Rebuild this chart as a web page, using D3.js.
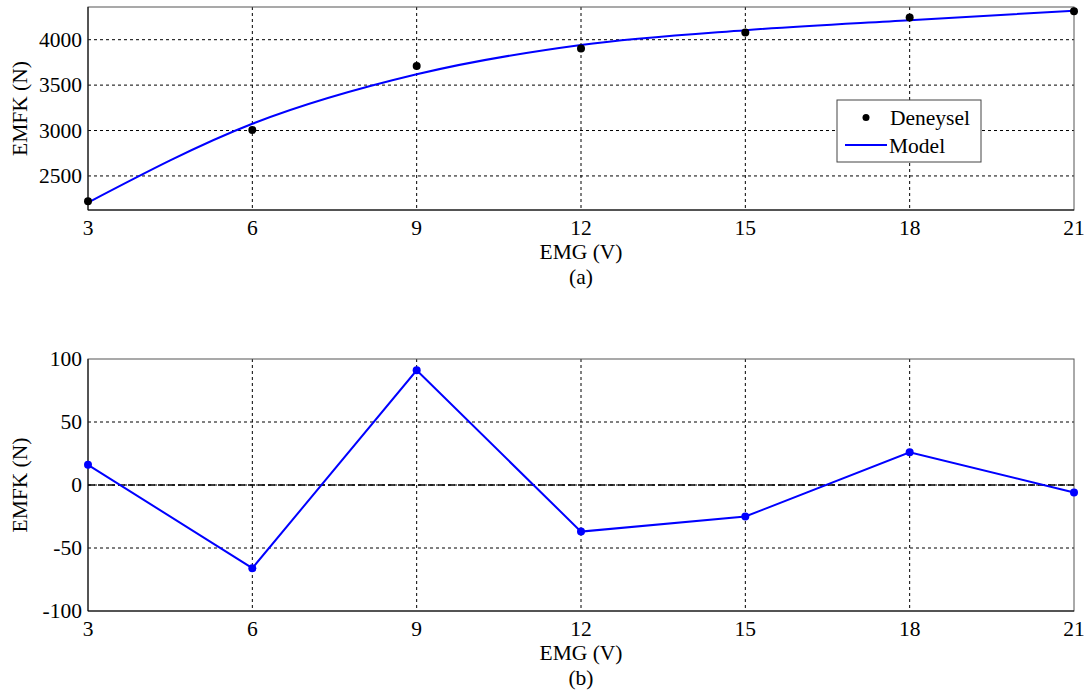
<!DOCTYPE html>
<html>
<head>
<meta charset="utf-8">
<script src="https://cdn.jsdelivr.net/npm/d3@7"></script>
<style>
  body { margin: 0; background: #fff; }
  text { font-family: "Liberation Serif", "Times New Roman", serif; fill: #000; }
</style>
</head>
<body>
<svg id="chart" width="1089" height="695"></svg>
<script>
const voltages = [3, 6, 9, 12, 15, 18, 21];
const measured = [2222, 3005, 3710, 3902, 4078, 4244, 4314];
const model = [2206, 3074, 3619, 3942, 4105, 4215, 4320];
const residual = [16, -66, 91, -37, -25, 26, -6];
const xTicks = [3, 6, 9, 12, 15, 18, 21];
const topTicks = [2500, 3000, 3500, 4000];
const bottomTicks = [-100, -50, 0, 50, 100];

const svg = d3.select('#chart');
const left = 88, right = 1074;
const fontSize = '21.5px';

const x = d3.scaleLinear().domain([3, 21]).range([left, right]);

function drawPanel(top, bottom, yDomain, yTicks, caption) {
  const y = d3.scaleLinear().domain(yDomain).range([bottom, top]);
  const g = svg.append('g');

  // grid
  g.selectAll('.vgrid')
    .data(xTicks.slice(1, -1))
    .enter()
    .append('line')
    .attr('x1', d => x(d)).attr('x2', d => x(d))
    .attr('y1', top).attr('y2', bottom)
    .attr('stroke', '#000')
    .attr('stroke-width', 1)
    .attr('stroke-dasharray', '3,3');

  g.selectAll('.hgrid')
    .data(yTicks.filter(d => y(d) > top + 1 && y(d) < bottom - 1))
    .enter()
    .append('line')
    .attr('x1', left).attr('x2', right)
    .attr('y1', d => y(d)).attr('y2', d => y(d))
    .attr('stroke', '#000')
    .attr('stroke-width', 1)
    .attr('stroke-dasharray', '3,3');

  // frame
  g.append('rect')
    .attr('x', left).attr('y', top)
    .attr('width', right - left).attr('height', bottom - top)
    .attr('fill', 'none')
    .attr('stroke', '#555')
    .attr('stroke-width', 1);
  g.append('line')
    .attr('x1', left).attr('x2', left).attr('y1', top).attr('y2', bottom)
    .attr('stroke', '#000');
  g.append('line')
    .attr('x1', left).attr('x2', right).attr('y1', bottom).attr('y2', bottom)
    .attr('stroke', '#000');

  // tick labels
  g.selectAll('.xt')
    .data(xTicks)
    .enter()
    .append('text')
    .attr('x', d => x(d))
    .attr('y', bottom + 25)
    .attr('text-anchor', 'middle')
    .style('font-size', fontSize)
    .text(d => d);

  g.selectAll('.yt')
    .data(yTicks)
    .enter()
    .append('text')
    .attr('x', left - 6)
    .attr('y', d => y(d) + 7)
    .attr('text-anchor', 'end')
    .style('font-size', fontSize)
    .text(d => d);

  // axis titles
  g.append('text')
    .attr('x', (left + right) / 2)
    .attr('y', bottom + 49)
    .attr('text-anchor', 'middle')
    .style('font-size', fontSize)
    .text('EMG (V)');
  g.append('text')
    .attr('x', (left + right) / 2)
    .attr('y', bottom + 74)
    .attr('text-anchor', 'middle')
    .style('font-size', fontSize)
    .text(caption);
  g.append('text')
    .attr('transform', `translate(27,${(top + bottom) / 2}) rotate(-90)`)
    .attr('text-anchor', 'middle')
    .style('font-size', fontSize)
    .text('EMFK (N)');

  return { g, y };
}

// Panel (a)
const a = drawPanel(7, 210, [2125, 4360], topTicks, '(a)');

a.g.append('path')
  .datum(voltages.map((v, i) => [v, model[i]]))
  .attr('fill', 'none')
  .attr('stroke', '#0000ff')
  .attr('stroke-width', 2)
  .attr('d', d3.line()
    .x(d => x(d[0]))
    .y(d => a.y(d[1]))
    .curve(d3.curveMonotoneX));

a.g.selectAll('.dot')
  .data(voltages.map((v, i) => [v, measured[i]]))
  .enter()
  .append('circle')
  .attr('cx', d => x(d[0]))
  .attr('cy', d => a.y(d[1]))
  .attr('r', 4)
  .attr('fill', '#000');

// legend
const lg = a.g.append('g');
lg.append('rect')
  .attr('x', 837).attr('y', 100)
  .attr('width', 144).attr('height', 62)
  .attr('fill', '#fff')
  .attr('stroke', '#444')
  .attr('stroke-width', 1);
lg.append('circle')
  .attr('cx', 866).attr('cy', 117.5).attr('r', 3.5).attr('fill', '#000');
lg.append('text')
  .attr('x', 890).attr('y', 125)
  .style('font-size', fontSize)
  .text('Deneysel');
lg.append('line')
  .attr('x1', 845).attr('x2', 887).attr('y1', 145).attr('y2', 145)
  .attr('stroke', '#0000ff').attr('stroke-width', 2);
lg.append('text')
  .attr('x', 889).attr('y', 153)
  .style('font-size', fontSize)
  .text('Model');

// Panel (b)
const b = drawPanel(359, 611, [-100, 100], bottomTicks, '(b)');

b.g.append('line')
  .attr('x1', left).attr('x2', right)
  .attr('y1', b.y(0)).attr('y2', b.y(0))
  .attr('stroke', '#000')
  .attr('stroke-width', 1.6)
  .attr('stroke-dasharray', '7,3');

b.g.append('path')
  .datum(voltages.map((v, i) => [v, residual[i]]))
  .attr('fill', 'none')
  .attr('stroke', '#0000ff')
  .attr('stroke-width', 2)
  .attr('d', d3.line()
    .x(d => x(d[0]))
    .y(d => b.y(d[1])));

b.g.selectAll('.rdot')
  .data(voltages.map((v, i) => [v, residual[i]]))
  .enter()
  .append('circle')
  .attr('cx', d => x(d[0]))
  .attr('cy', d => b.y(d[1]))
  .attr('r', 4)
  .attr('fill', '#0000ff');
</script>
</body>
</html>
